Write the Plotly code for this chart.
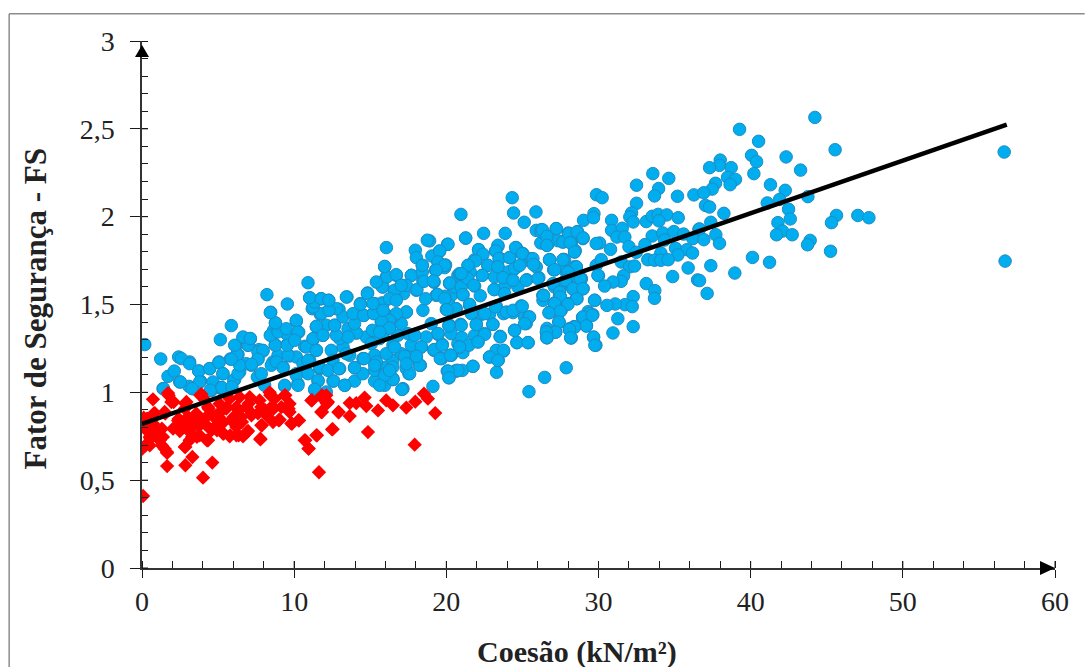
import plotly.graph_objects as go

blue_left = [
(0.18,1.272),(1.23,1.19),(2.41,1.201),(3.13,1.173),(1.71,1.091),(2.12,1.121),(2.48,1.059),(1.38,1.021),(3.09,1.034),(3.35,1.021),
(3.73,1.121),(3.85,1.063),(4.45,1.135),(5.06,1.173),(5.15,1.30),(5.87,1.38),(4.56,1.011),(5.21,1.021),(5.32,1.106),(6.09,1.072),
(5.81,1.19),(6.16,1.266),(6.31,1.216),(6.64,1.311),(7.12,1.306),(6.97,1.268),(6.42,1.116),(7.19,1.154),(7.62,1.192),(7.95,1.235),
(7.69,1.243),(8.21,1.556),(8.46,1.456),(9.55,1.503),(10.91,1.624),(8.76,1.395),(8.50,1.325),(8.65,1.353),(8.76,1.271),(9.44,1.353),
(10.14,1.404),(10.30,1.343),(9.55,1.273),(9.70,1.207),(8.61,1.173),(9.27,1.144),(10.14,1.106),(10.25,1.049),(9.38,1.034),(8.06,1.04),
(7.58,1.087),(6.86,1.163),(11.24,1.30),(10.69,1.262),(11.46,1.372),(12.11,1.382),(11.46,1.239),(11.02,1.182),(11.67,1.135),(10.80,1.116),
(11.57,1.064),(11.35,1.015),(12.11,1.002),(12.55,1.064),(13.32,1.04),(13.97,1.064),(14.52,1.106),(15.29,1.064),(15.95,1.04),(16.49,1.072),
(17.15,1.021),(17.54,1.106),(18.25,1.154),(19.12,1.034),(20.17,1.116),(20.65,1.125),(11.02,1.537),(11.37,1.518),(11.78,1.533),(12.27,1.524),
(11.19,1.476),(11.72,1.444),(12.29,1.467),(12.95,1.473),(13.47,1.543),(14.35,1.505),(14.83,1.566),(15.29,1.505),(15.77,1.509),(15.57,1.623),
(15.84,1.60),(16.05,1.657),(16.71,1.666),(15.95,1.714),(17.70,1.666),(17.04,1.61),(16.60,1.571),(17.19,1.562),(18.03,1.581),(18.46,1.634),
(18.42,1.723),(19.19,1.628),(19.89,1.71),(20.22,1.619),(20.76,1.666),(19.34,1.552),(20.33,1.552),(20.22,1.495),(18.46,1.467),(17.37,1.457),
(16.60,1.438),(15.95,1.448),(15.29,1.452),(14.57,1.438),(12.66,1.382),(13.54,1.362),(14.08,1.338),(14.74,1.315),(16.27,1.372),(17.48,1.334),
(19.01,1.391),(20.22,1.382),(19.45,1.33),(20.76,1.277),(18.36,1.258),(19.23,1.243),(20.33,1.211),(17.37,1.211),(18.03,1.201),(18.29,1.154),
(15.29,1.211),(16.05,1.144),(14.52,1.192),(13.97,1.14),(12.99,1.135),(12.44,1.239),(13.21,1.258),(13.65,1.211),(16.49,1.268),(15.62,1.306),
(11.89,1.324),(12.99,1.306),(9.48,1.334),(8.94,1.211),(10.14,1.201),(10.58,1.163),(12.55,1.182),(15.07,1.277),(17.70,1.268),(16.49,1.182),
(20.87,1.676),
]

blue_left_extra = [
(2.59,1.192),(3.13,1.163),(3.73,1.122),(4.45,1.135),(5.06,1.169),(5.32,1.106),(3.79,1.059),(4.67,1.059),(5.2,1.027),(6.02,1.068),
(6.31,1.106),(6.42,1.154),(6.24,1.216),(5.87,1.188),(6.09,1.268),(6.97,1.268),(6.64,1.315),(7.12,1.306),(7.62,1.23),(7.95,1.239),
(7.62,1.188),(7.19,1.159),(7.84,1.106),(8.5,1.154),(8.83,1.173),(9.6,1.211),(9.27,1.14),(10.14,1.097),(10.25,1.04),(9.38,1.04),
(8.76,1.268),(9.55,1.268),(8.43,1.325),(8.94,1.344),(9.48,1.362),(10.25,1.344),(10.14,1.41),(8.78,1.395),(8.43,1.454),(10.03,1.296),
(10.8,1.258),(11.24,1.306),(11.46,1.376),(11.89,1.325),(11.46,1.239),(10.91,1.182),(11.67,1.144),(10.91,1.106),(11.57,1.068),(11.35,1.017),
(12.22,1.125),(12.94,1.135),(12.6,1.065),(13.32,1.04),(13.43,1.22),(13.97,1.14),(14.59,1.192),(15.29,1.125),(15.95,1.106),(16.49,1.078),
(15.4,1.173),(16.05,1.22),(16.49,1.144),(17.1,1.017),(17.37,1.135),(17.04,1.22),(16.6,1.258),(15.84,1.334),(16.27,1.366),(16.82,1.325),
(17.04,1.391),(16.49,1.429),(15.73,1.4),(15.14,1.353),(14.08,1.338),(13.54,1.315),(12.77,1.325),(12.66,1.382),(13.97,1.391),(13.21,1.429),
(12.77,1.476),(13.87,1.448),(14.57,1.438),(15.24,1.452),(15.84,1.505),(16.6,1.543),(11.78,1.448),(12.29,1.467),(11.24,1.486),(11.35,1.514),
(11.02,1.539),(11.78,1.533),(12.27,1.524),(13.43,1.543),(14.81,1.562),(14.35,1.501),(1.42,1.021),(2.52,1.059),(3.29,1.021),(4.49,1.012),
(5.26,1.027),(5.91,1.03),
]

blue_mid = [
(32.50,2.179),(33.57,2.245),(34.62,2.218),(33.95,2.16),(33.68,2.118),(35.19,2.116),(36.27,2.124),(29.87,2.125),(30.24,2.108),(24.33,2.108),
(32.50,2.076),(25.89,2.027),(24.42,2.021),(20.96,2.013),(25.12,1.968),(29.02,1.979),(29.70,2.017),(29.67,1.994),(32.17,2.021),(32.06,1.998),
(32.28,1.97),(30.86,1.979),(33.14,1.972),(33.53,2.002),(33.92,2.013),(34.49,2.01),(33.97,1.976),(35.24,1.994),(25.91,1.922),(26.24,1.926),
(27.22,1.932),(28.01,1.907),(28.62,1.915),(28.97,1.879),(26.63,1.89),(22.45,1.905),(23.87,1.905),(21.27,1.877),(30.86,1.922),(31.56,1.934),
(31.21,1.884),(31.73,1.884),(30.07,1.85),(33.53,1.89),(34.23,1.907),(34.95,1.915),(35.59,1.901),(36.60,1.928),(36.20,1.875),(26.21,1.85),
(26.61,1.837),(27.33,1.863),(27.70,1.858),(28.21,1.85),(20.08,1.843),(18.90,1.862),(23.39,1.831),(22.12,1.812),(23.24,1.803),(24.59,1.824),
(25.03,1.79),(19.56,1.803),(28.47,1.807),(30.79,1.814),(32.0,1.829),(33.05,1.841),(34.34,1.867),(32.48,1.797),(34.10,1.793),(35.06,1.82),
(35.81,1.812),(36.18,1.793),(35.22,1.782),(33.24,1.755),(33.68,1.752),(34.10,1.752),(34.58,1.755),(35.89,1.708),(34.87,1.659),(36.51,1.64),
(33.14,1.619),(33.70,1.579),(33.68,1.535),(32.28,1.545),(31.73,1.499),(32.22,1.488),(31.10,1.503),(30.55,1.495),(29.76,1.524),(29.63,1.442),
(29.32,1.459),(28.95,1.427),(29.21,1.380),(31.27,1.419),(32.28,1.374),(30.95,1.338),(28.40,1.374),(28.08,1.357),(28.21,1.309),(29.67,1.313),
(29.83,1.268),(27.88,1.14),(26.46,1.085),(25.43,1.004),(27.40,1.40),(27.18,1.343),(26.61,1.364),(26.59,1.338),(26.61,1.311),(24.48,1.353),
(25.38,1.283),(24.64,1.283),(23.54,1.319),(23.76,1.235),(23.35,1.237),(22.84,1.201),(23.41,1.182),(23.30,1.114),(21.75,1.148),(21.05,1.125),
(20.65,1.12),(20.06,1.121),(20.17,1.083),(20.24,1.211),(19.69,1.192),(21.09,1.226),(19.18,1.239),(19.23,1.77),(19.45,1.742),(19.29,1.695),
(19.95,1.725),(21.44,1.723),(21.86,1.755),(22.23,1.789),(22.73,1.723),(23.39,1.714),(23.50,1.763),(24.16,1.767),(24.81,1.799),(25.25,1.752),
(25.58,1.761),(25.91,1.714),(24.64,1.714),(24.38,1.695),(24.05,1.685),(26.08,1.653),(25.29,1.641),(24.33,1.638),(23.72,1.653),(23.17,1.657),
(22.36,1.666),(21.57,1.685),(20.96,1.672),(20.21,1.622),(20.54,1.60),(20.98,1.60),(21.86,1.605),(21.42,1.647),(19.18,1.628),(19.40,1.558),
(19.89,1.547),(21.09,1.556),(22.23,1.55),(23.17,1.585),(23.83,1.603),(24.70,1.60),(26.35,1.552),(27.05,1.698),(26.78,1.755),(27.70,1.757),
(28.38,1.714),(27.77,1.695),(28.43,1.653),(28.86,1.647),(30.0,1.664),(29.85,1.723),(30.18,1.755),(31.49,1.742),(32.04,1.714),(32.37,1.719),
(31.65,1.664),(31.49,1.632),(30.95,1.628),(30.40,1.605),(28.32,1.59),(28.97,1.59),(27.48,1.547),(27.11,1.60),(27.88,1.628),(28.54,1.535),
(27.92,1.505),(27.11,1.509),(26.78,1.454),(27.44,1.461),(26.35,1.524),(24.92,1.492),(24.38,1.454),(23.76,1.448),(23.28,1.49),(21.53,1.495),
(20.65,1.476),(20.0,1.472),(22.84,1.444),(22.19,1.438),(21.64,1.448),(25.14,1.429),(25.43,1.429),(25.25,1.391),(23.06,1.387),(21.97,1.387),
(20.94,1.387),(20.17,1.381),(19.45,1.334),(20.32,1.334),(21.02,1.311),(21.86,1.324),(22.51,1.334),(22.08,1.287),(21.48,1.268),(20.87,1.258),
(19.73,1.273),
]

blue_mid_extra = [
(16.06,1.824),(18.75,1.866),(20.11,1.843),(21.27,1.879),(17.96,1.809),(18.03,1.767),(19.05,1.776),(19.56,1.805),(19.45,1.742),(19.89,1.723),
(19.34,1.695),(22.12,1.812),(22.41,1.786),(21.92,1.748),(21.42,1.723),(22.73,1.723),(23.39,1.837),(23.24,1.805),(23.46,1.761),(24.16,1.767),
(24.55,1.824),(24.99,1.79),(25.69,1.761),(25.73,1.727),(24.49,1.704),(24.82,1.723),(23.39,1.714),(23.72,1.653),(24.38,1.638),(25.25,1.638),
(26.02,1.647),(26.79,1.755),(27.77,1.755),(27.11,1.698),(28.54,1.714),(28.43,1.799),(28.98,1.875),(27.66,1.856),(26.68,1.846),(26.24,1.913),
(28.03,1.903),(29.85,1.847),(29.96,1.666),(28.87,1.647),(28.98,1.59),(28.32,1.59),(27.44,1.59),(26.35,1.552),(27.44,1.552),(28.58,1.533),
(27.99,1.505),(27.55,1.467),(26.79,1.457),(29.74,1.524),(29.41,1.448),(28.98,1.425),(27.4,1.4),(29.2,1.378),(28.43,1.372),(28.1,1.363),
(28.19,1.311),(26.61,1.344),(26.61,1.311),(27.18,1.344),(29.68,1.315),(29.76,1.268),(15.79,1.6),(15.4,1.628),(16.1,1.657),(16.71,1.67),
(15.95,1.717),(17.7,1.666),(18.42,1.685),(18.42,1.723),(17.37,1.609),(16.6,1.581),(16.27,1.533),(16.71,1.524),(17.04,1.609),(18.07,1.585),
(18.53,1.632),(19.16,1.634),(19.41,1.556),(19.89,1.533),(18.64,1.533),(20.22,1.622),(20.98,1.676),(21.09,1.556),(21.81,1.609),(22.36,1.666),
(23.13,1.585),(23.83,1.562),(20.61,1.476),(20.04,1.47),(21.53,1.501),(22.52,1.448),(23.24,1.486),(23.94,1.457),(24.38,1.467),(24.99,1.49),
(25.47,1.429),(25.14,1.391),(24.49,1.353),(23.54,1.315),(24.64,1.283),(25.36,1.283),(23.06,1.387),(22.52,1.33),(21.97,1.385),(20.98,1.381),
(20.17,1.378),(19.45,1.334),(18.68,1.315),(17.92,1.325),(17.37,1.457),(16.71,1.448),(16.27,1.41),(15.73,1.406),(16.27,1.366),(15.62,1.344),
(15.22,1.448),(15.84,1.467),(15.18,1.505),(18.35,1.258),(19.19,1.243),(19.73,1.268),(20.87,1.258),(22.08,1.287),(23.28,1.239),(23.76,1.239),
(22.84,1.201),(23.39,1.182),(21.75,1.148),(20.76,1.125),(20.11,1.121),(20.17,1.083),(17.26,1.205),(18.25,1.154),(17.59,1.106),(16.49,1.074),
(17.08,1.017),(15.95,1.097),(15.62,1.04),(16.27,1.125),(15.29,1.154),(17.37,1.163),(18.03,1.205),(19.6,1.192),(20.28,1.211),
(26.31,1.926),(26.61,1.888),(27.23,1.932),(27.66,1.856),(28.04,1.903),(28.6,1.913),(28.98,1.879),(28.14,1.852),(26.61,1.837),(26.79,1.755),
(27.66,1.755),(28.43,1.799),(28.54,1.714),(27.12,1.698),(27.99,1.685),(28.8,1.647),(27.84,1.638),(27.01,1.619),(28.32,1.59),(28.98,1.59),
(27.44,1.571),(26.39,1.552),(27.49,1.543),(28.58,1.533),(27.99,1.501),(27.12,1.505),(27.49,1.461),(26.74,1.453),(27.4,1.4),(28.98,1.429),
(29.59,1.438),(29.2,1.378),(28.43,1.372),(28.1,1.358),(27.18,1.343),(26.57,1.343),(26.61,1.311),(28.17,1.311),
]

blue_right = [
(44.22,2.565),(39.27,2.497),(40.52,2.429),(45.55,2.381),(56.66,2.368),(42.33,2.34),(40.06,2.349),(40.39,2.313),(38.0,2.322),(37.95,2.292),
(37.3,2.279),(38.72,2.279),(43.28,2.265),(40.21,2.245),(38.48,2.224),(39.0,2.212),(38.65,2.182),(37.69,2.19),(37.47,2.157),(36.92,2.136),
(41.3,2.182),(42.27,2.15),(43.76,2.114),(41.09,2.078),(41.9,2.098),(42.49,2.042),(42.6,1.987),(37.03,2.064),(37.3,2.055),(38.24,2.019),
(45.64,2.007),(45.31,1.966),(47.04,2.007),(47.77,1.994),(41.79,1.966),(37.38,1.968),(36.64,1.93),(42.09,1.918),(41.7,1.897),(42.73,1.897),
(37.71,1.897),(36.92,1.869),(37.95,1.848),(43.91,1.865),(43.74,1.84),(45.25,1.803),(40.12,1.768),(41.24,1.74),(56.72,1.747),(37.38,1.721),
(38.96,1.679),(36.64,1.636),(37.14,1.563),
]

red_points = [
(0.07,0.41),(1.65,0.58),(2.85,0.585),(3.31,0.632),(4.01,0.514),(4.62,0.60),(11.63,0.545),(17.92,0.702),(14.85,0.774),(12.49,0.789),
(19.27,0.882),(0.72,0.96),(1.71,0.996),(1.93,0.945),(2.92,0.945),(3.90,0.99),(0.11,0.856),(0.84,0.882),(1.49,0.888),(0.18,0.793),
(0.84,0.765),(1.38,0.746),(0.02,0.679),(0.51,0.698),(1.16,0.727),(1.49,0.679),(1.65,0.655),(2.81,0.689),(3.13,0.727),(3.79,0.755),
(4.34,0.727),(2.48,0.78),(2.37,0.84),(3.02,0.86),(3.57,0.88),(4.34,0.916),(5.10,0.935),(5.76,0.964),(6.42,0.973),(7.08,0.973),
(6.86,0.916),(6.20,0.916),(5.54,0.907),(4.89,0.869),(4.12,0.822),(3.35,0.803),(4.78,0.803),(5.32,0.765),(5.76,0.75),(6.20,0.755),
(6.64,0.75),(6.97,0.78),(5.87,0.84),(6.53,0.86),(7.19,0.869),(7.84,0.916),(8.39,1.0),(8.72,0.964),(9.38,0.983),(9.70,0.935),
(9.16,0.916),(8.39,0.907),(8.17,0.869),(8.61,0.831),(9.05,0.844),(9.70,0.888),(7.84,0.812),(7.78,0.732),(9.81,0.822),(10.32,0.84),
(11.13,0.954),(11.78,0.973),(12.11,0.983),(12.22,0.945),(11.78,0.888),(12.92,0.886),(13.65,0.865),(13.65,0.939),(14.08,0.939),(14.63,0.97),
(14.74,0.922),(15.51,0.897),(16.05,0.954),(16.49,0.926),(17.37,0.913),(17.96,0.947),(18.53,0.992),(18.79,0.964),(10.69,0.727),(11.46,0.755),
(10.95,0.679),(0.07,0.84),(0.72,0.822),(2.04,0.793),(2.59,0.822),(0.51,0.746),(1.05,0.784),(5.21,0.822),(4.23,0.86),(6.20,0.803),
(7.62,0.88),(4.56,0.784),(3.79,0.812),(3.02,0.784),(2.81,0.907),(7.73,0.954),(8.61,0.916),
]

red_extra = [
(1.75,0.983),(2.08,0.945),(2.85,0.936),(2.41,0.85),(2.85,0.831),(2.52,0.784),(3.29,0.822),(3.72,0.86),(3.83,0.983),(4.16,0.955),
(4.38,0.907),(4.71,0.86),(5.15,0.888),(5.58,0.917),(5.37,0.831),(6.02,0.86),(6.35,0.898),(6.57,0.831),(7.01,0.936),(7.23,0.879),
(4.93,0.784),(5.37,0.765),(5.80,0.755),(6.35,0.755),(6.90,0.774),(7.78,0.736),(7.88,0.812),(8.10,0.898),(8.43,0.983),(8.65,0.907),
(8.98,0.841),(9.42,0.983),(9.64,0.907),(9.86,0.822),(10.29,0.841),(11.17,0.955),(11.83,0.983),(12.15,0.936),(11.83,0.888),(12.92,0.888),
(12.53,0.79),(11.5,0.755),(10.73,0.727),(10.95,0.68),(0.77,0.879),(1.53,0.879),(0.33,0.85),(0.66,0.803),(1.31,0.793),(0.99,0.755),
(0.22,0.698),(0.55,0.736),(1.31,0.698),(1.64,0.66),(2.85,0.689),(3.29,0.746),(3.61,0.746),(4.27,0.727),
]

trend_x = [0, 56.83]
trend_y = [0.82, 2.524]

x_tick_vals = [0, 10, 20, 30, 40, 50, 60]
x_tick_text = ["0", "10", "20", "30", "40", "50", "60"]
y_tick_vals = [0, 0.5, 1, 1.5, 2, 2.5, 3]
y_tick_text = ["0", "0,5", "1", "1,5", "2", "2,5", "3"]

x_title = "Coesão (kN/m²)"
y_title = "Fator de Segurança - FS"

blue_all = blue_left + blue_left_extra + blue_mid + blue_mid_extra + blue_right
red_all = red_points + red_extra
FONT = "Liberation Serif"
INK = "#1a1a1a"
TEXT = "#222222"

fig = go.Figure()
fig.add_trace(go.Scatter(
    x=[p[0] for p in blue_all], y=[p[1] for p in blue_all], mode="markers",
    marker=dict(symbol="circle", size=12.5, color="#00AEEF", line=dict(color="#1C8CC4", width=1)),
    showlegend=False))
fig.add_trace(go.Scatter(
    x=[p[0] for p in red_all], y=[p[1] for p in red_all], mode="markers",
    marker=dict(symbol="diamond", size=11, color="#FF0000", line=dict(width=0)),
    showlegend=False))
fig.add_trace(go.Scatter(
    x=trend_x, y=trend_y, mode="lines", line=dict(color="black", width=4.5), showlegend=False))

shapes = []
for v in x_tick_vals:
    shapes.append(dict(type="line", xref="x", yref="paper", ysizemode="pixel", yanchor=0, x0=v, x1=v, y0=0, y1=7,
                       line=dict(color=INK, width=1)))
for v in y_tick_vals:
    shapes.append(dict(type="line", xref="paper", yref="y", xsizemode="pixel", xanchor=0, y0=v, y1=v, x0=0, x1=6,
                       line=dict(color=INK, width=1)))
shapes.append(dict(type="path", xref="paper", yref="paper", xsizemode="pixel", ysizemode="pixel", xanchor=1, yanchor=0,
                   path="M -15,-7 L 0,0 L -15,7 Z", fillcolor="black", line=dict(width=0)))
shapes.append(dict(type="path", xref="paper", yref="paper", xsizemode="pixel", ysizemode="pixel", xanchor=0, yanchor=1,
                   path="M -7,-16 L 0,-4 L 7,-16 Z", fillcolor="black", line=dict(width=0)))
shapes.append(dict(type="line", xref="paper", yref="paper", x0=-0.1455, x1=1.0325, y0=1.0516, y1=1.0516,
                   line=dict(color="#8c8c8c", width=1.5), layer="below"))
shapes.append(dict(type="line", xref="paper", yref="paper", x0=-0.1455, x1=-0.1455, y0=1.0516, y1=-0.1884,
                   line=dict(color="#8c8c8c", width=1.5), layer="below"))

annotations = [
    dict(text="<b>%s</b>" % x_title, xref="paper", yref="paper", x=0.4767, y=-0.16, xanchor="center", yanchor="middle",
         showarrow=False, font=dict(size=30, family=FONT, color=TEXT)),
    dict(text="<b>%s</b>" % y_title, xref="paper", yref="paper", x=-0.1164, y=0.4918, xanchor="center", yanchor="middle",
         showarrow=False, textangle=-90, font=dict(size=31, family=FONT, color=TEXT)),
]

fig.update_layout(
    width=1085, height=667, autosize=False,
    margin=dict(l=142.3, r=29.7, t=40.7, b=99.3),
    paper_bgcolor="white", plot_bgcolor="white",
    font=dict(family=FONT, size=28, color=TEXT),
    shapes=shapes, annotations=annotations,
    xaxis=dict(range=[0, 60], tickvals=x_tick_vals, ticktext=x_tick_text, ticks="outside", ticklen=8, tickwidth=1,
               tickcolor=INK, showline=True, linecolor="#333333", linewidth=1.5, showgrid=False, zeroline=False,
               minor=dict(tick0=0, dtick=2, ticks="inside", ticklen=7, tickwidth=1, tickcolor=INK, showgrid=False),
               tickfont=dict(size=28, family=FONT)),
    yaxis=dict(range=[0, 3], tickvals=y_tick_vals, ticktext=y_tick_text, ticks="outside", ticklen=10, tickwidth=1,
               tickcolor=INK, showline=True, linecolor="#333333", linewidth=1.5, showgrid=False, zeroline=False,
               minor=dict(tick0=0, dtick=0.1, ticks="inside", ticklen=6, tickwidth=1, tickcolor=INK, showgrid=False),
               ticklabelstandoff=10, tickfont=dict(size=28, family=FONT)),
)
fig.write_html("out.html", config=dict(displayModeBar=False), post_script="document.body.style.margin='0';")
